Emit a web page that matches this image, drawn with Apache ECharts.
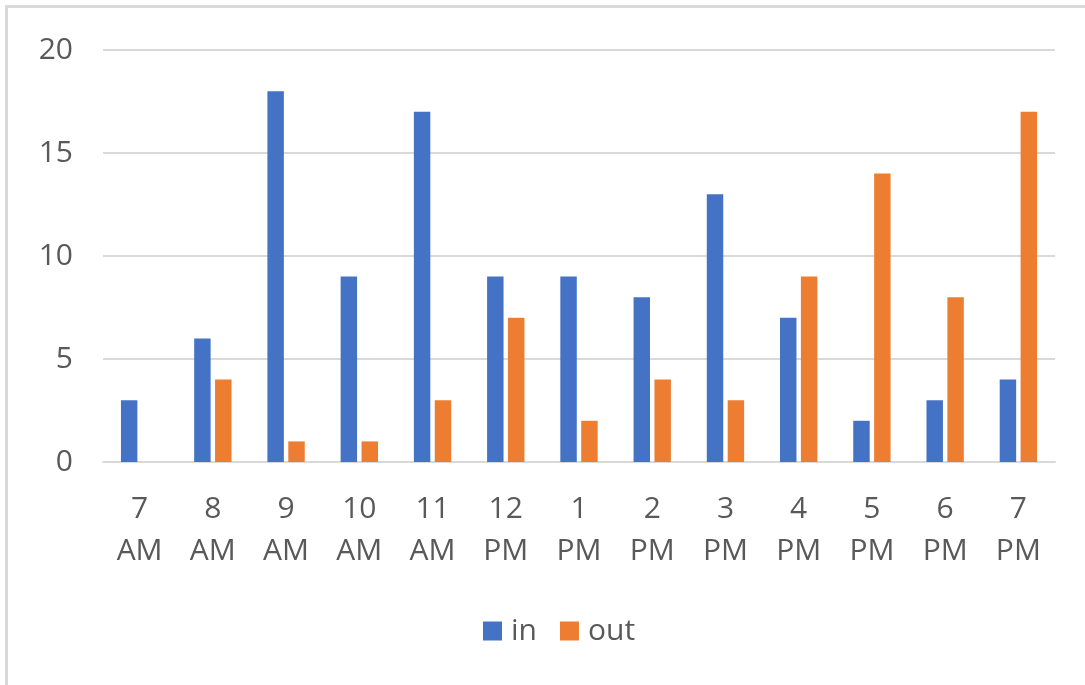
<!DOCTYPE html>
<html>
<head>
<meta charset="utf-8">
<script src="https://cdn.jsdelivr.net/npm/echarts@6/dist/echarts.min.js"></script>
<style>
html,body{margin:0;padding:0;background:#fff;}
#chart{width:1085px;height:685px;}
</style>
</head>
<body>
<div id="chart"></div>
<script>
var categories = ['7\nAM','8\nAM','9\nAM','10\nAM','11\nAM','12\nPM','1\nPM','2\nPM','3\nPM','4\nPM','5\nPM','6\nPM','7\nPM'];
var inValues = [3, 6, 18, 9, 17, 9, 9, 8, 13, 7, 2, 3, 4];
var outValues = [0, 4, 1, 1, 3, 7, 2, 4, 3, 9, 14, 8, 17];
var yTicks = [0, 5, 10, 15, 20];

var fontFam = '"Open Sans", "Noto Sans", sans-serif';
var textColor = '#595959';
var chart = echarts.init(document.getElementById('chart'), null, {renderer: 'canvas'});
chart.setOption({
  animation: false,
  backgroundColor: '#ffffff',
  graphic: [{
    type: 'rect', silent: true,
    shape: {x: 6.5, y: 6.5, width: 3000, height: 3000},
    style: {fill: 'none', stroke: '#d9d9d9', lineWidth: 3}
  }],
  grid: {left: 103, right: 30, top: 50, bottom: 223, containLabel: false},
  legend: {
    data: ['in', 'out'],
    bottom: 39,
    padding: 0,
    left: 483,
    itemWidth: 19, itemHeight: 19, itemGap: 23,
    icon: 'rect',
    textStyle: {color: textColor, fontSize: 30, fontFamily: fontFam, padding: [0, 0, 0, 4]}
  },
  xAxis: {
    type: 'category',
    data: categories,
    axisLine: {show: true, lineStyle: {color: '#d9d9d9', width: 2}},
    axisTick: {show: false},
    axisLabel: {color: textColor, fontSize: 30, fontFamily: fontFam, lineHeight: 42, margin: 26, interval: 0}
  },
  yAxis: {
    type: 'value',
    min: yTicks[0], max: yTicks[yTicks.length - 1], interval: 5,
    axisLine: {show: false},
    axisTick: {show: false},
    splitLine: {lineStyle: {color: '#d9d9d9', width: 2}},
    axisLabel: {color: textColor, fontSize: 30, fontFamily: fontFam, margin: 30}
  },
  series: [
    {name: 'in', type: 'bar', data: inValues, barGap: '27%', barCategoryGap: '49%',
     itemStyle: {color: '#4472C4'}},
    {name: 'out', type: 'bar', data: outValues, barGap: '27%', barCategoryGap: '49%',
     itemStyle: {color: '#ED7D31'}}
  ]
});
</script>
</body>
</html>
